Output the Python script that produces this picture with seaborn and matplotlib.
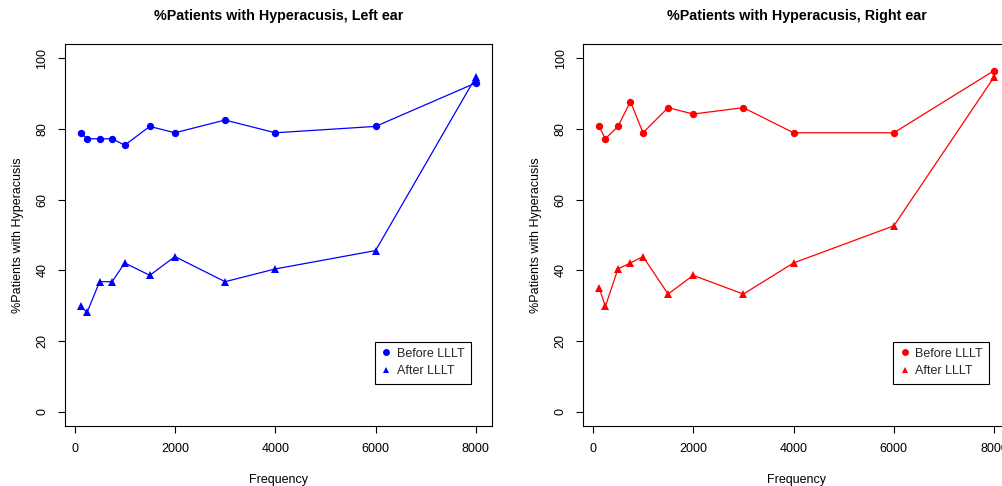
import matplotlib
matplotlib.use("Agg")
import matplotlib.pyplot as plt
from matplotlib.lines import Line2D
import seaborn as sns
import pandas as pd

frequency = [125, 250, 500, 750, 1000, 1500, 2000, 3000, 4000, 6000, 8000]
left_before = [78.9, 77.2, 77.2, 77.2, 75.4, 80.7, 78.9, 82.5, 78.9, 80.7, 93.0]
left_after = [29.8, 28.1, 36.8, 36.8, 42.1, 38.6, 43.9, 36.8, 40.4, 45.6, 94.7]
right_before = [80.7, 77.2, 80.7, 87.7, 78.9, 86.0, 84.2, 86.0, 78.9, 78.9, 96.5]
right_after = [35.1, 29.8, 40.4, 42.1, 43.9, 33.3, 38.6, 33.3, 42.1, 52.6, 94.7]
titles = ["%Patients with Hyperacusis, Left ear", "%Patients with Hyperacusis, Right ear"]
series_labels = ["Before LLLT", "After LLLT"]
xticks = [0, 2000, 4000, 6000, 8000]
yticks = [0, 20, 40, 60, 80, 100]

sns.set_theme(style="white")
plt.rcParams["font.family"] = ["Liberation Sans", "DejaVu Sans"]

W, H = 1003, 486
fig = plt.figure(figsize=(W / 100, H / 100), dpi=100)
fig.patch.set_facecolor("white")

boxes = [(65, 44, 426.7, 382), (583.3, 44, 426.7, 382)]
panels = [(left_before, left_after, "#0000FF"), (right_before, right_after, "#FF0000")]

for (bx, by, bw, bh), (bef, aft, col), title in zip(boxes, panels, titles):
    ax = fig.add_axes([bx / W, 1 - (by + bh) / H, bw / W, bh / H])
    ax.set_facecolor("white")
    df = pd.DataFrame({"Frequency": frequency, "before": bef, "after": aft})
    sns.lineplot(data=df, x="Frequency", y="before", ax=ax, color=col, marker="o",
                 markersize=5.3, markeredgewidth=0, linewidth=0.9, legend=False)
    sns.lineplot(data=df, x="Frequency", y="after", ax=ax, color=col, marker="^",
                 markersize=5.5, markeredgewidth=0, linewidth=0.9, legend=False)
    ax.set_xlim(-190, 8315)
    ax.set_ylim(-4, 104)
    ax.set_xticks(xticks)
    ax.set_xticklabels([str(t) for t in xticks])
    ax.set_yticks(yticks)
    ax.set_yticklabels([str(t) for t in yticks], rotation=90, va="center")
    ax.tick_params(axis="both", direction="out", length=5, width=0.8, color="black",
                   labelsize=9, labelcolor="black", bottom=True, left=True)
    ax.tick_params(axis="x", pad=7)
    ax.tick_params(axis="y", pad=7)
    for s in ax.spines.values():
        s.set_color("black")
        s.set_linewidth(0.8)
        s.set_visible(True)
    ax.grid(False)
    ax.set_xlabel("Frequency", fontsize=9, labelpad=14, color="black")
    ax.set_ylabel("%Patients with Hyperacusis", fontsize=9, labelpad=9, color="black")
    ax.set_title(title, fontsize=10.3, fontweight="bold", pad=17, color="black")
    handles = [
        Line2D([], [], color=col, marker="o", linestyle="none", markersize=5, markeredgewidth=0),
        Line2D([], [], color=col, marker="^", linestyle="none", markersize=5, markeredgewidth=0),
    ]
    leg = ax.legend(handles, series_labels, loc="upper left",
                    bbox_to_anchor=(310 / bw, 1 - (341.5 - by) / bh),
                    fontsize=9, frameon=True, fancybox=False, handlelength=0.8,
                    handletextpad=0.45, borderpad=0.5, labelspacing=0.45, borderaxespad=0)
    leg.get_frame().set_edgecolor("black")
    leg.get_frame().set_linewidth(0.8)
    leg.get_frame().set_facecolor("white")
    leg.get_frame().set_alpha(1)

fig.savefig("out.png", dpi=100, facecolor="white")
